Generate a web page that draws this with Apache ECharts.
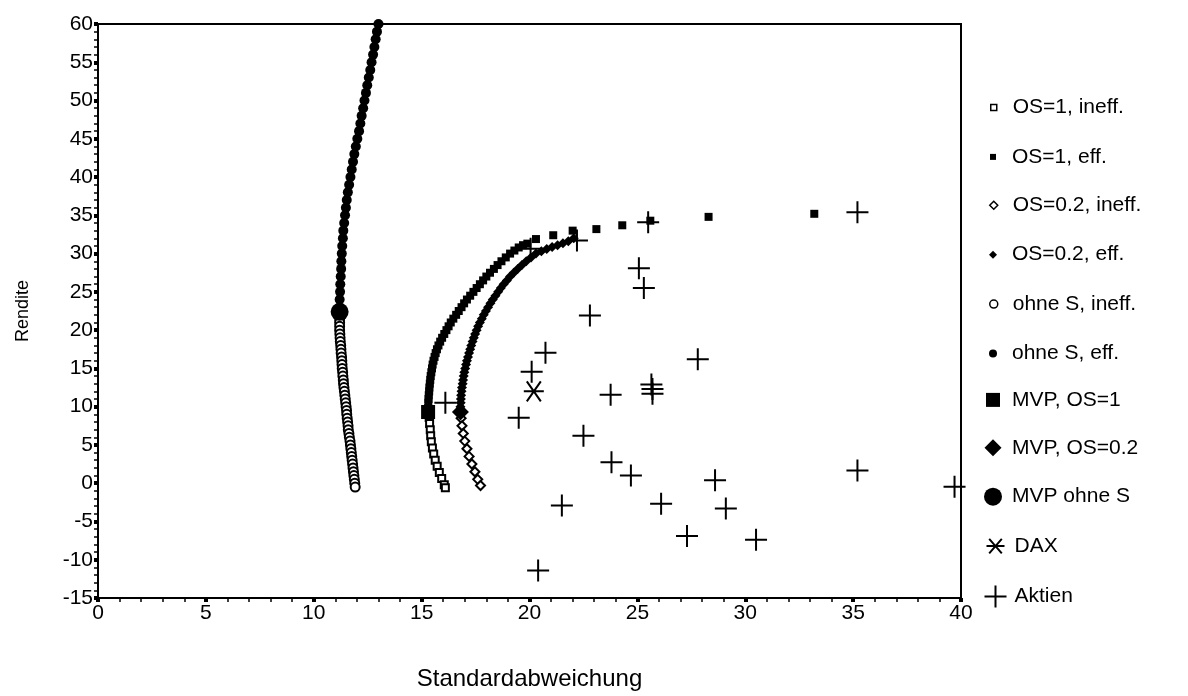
<!DOCTYPE html>
<html>
<head>
<meta charset="utf-8">
<script src="https://cdn.jsdelivr.net/npm/echarts@6/dist/echarts.min.js"></script>
<style>
  html, body { margin: 0; padding: 0; background: #fff; }
  #chart { width: 1188px; height: 696px; }
</style>
</head>
<body>
<div id="chart"></div>
<script>
// Werte: [Standardabweichung, Rendite]
var ohneSIneff = [[11.2,21.5],[11.2,21],[11.2,20.5],[11.2,20],[11.21,19.5],[11.22,19],[11.23,18.5],[11.25,18],[11.26,17.5],[11.27,17],[11.29,16.5],[11.3,16],[11.31,15.5],[11.32,15],[11.34,14.5],[11.35,14],[11.37,13.5],[11.38,13],[11.4,12.5],[11.42,12],[11.44,11.5],[11.46,11],[11.48,10.5],[11.5,10],[11.52,9.5],[11.53,9],[11.55,8.5],[11.57,8],[11.59,7.5],[11.6,7],[11.63,6.5],[11.65,6],[11.68,5.5],[11.7,5],[11.72,4.5],[11.74,4],[11.76,3.5],[11.78,3],[11.8,2.5],[11.82,2],[11.84,1.5],[11.86,1],[11.88,0.5],[11.9,0],[11.92,-0.5]];
var ohneSEff = [[11.2,23],[11.2,24],[11.22,25],[11.23,26],[11.25,27],[11.27,28],[11.28,29],[11.3,30],[11.32,31],[11.35,32],[11.37,33],[11.41,34],[11.45,35],[11.49,36],[11.53,37],[11.58,38],[11.64,39],[11.7,40],[11.76,41],[11.82,42],[11.88,43],[11.95,44],[12.02,45],[12.1,46],[12.16,47],[12.22,48],[12.29,49],[12.35,50],[12.42,51],[12.48,52],[12.55,53],[12.62,54],[12.68,55],[12.75,56],[12.81,57],[12.87,58],[12.93,59],[13.0,60]];
var os1Ineff = [[15.35,8.6],[15.37,7.8],[15.4,7.0],[15.42,6.2],[15.45,5.4],[15.5,4.6],[15.56,3.8],[15.63,3.0],[15.72,2.2],[15.82,1.4],[15.93,0.6],[16.05,-0.2],[16.1,-0.6]];
var os1Eff = [[15.3,9.8],[15.31,10.5],[15.32,11],[15.33,11.5],[15.35,12],[15.36,12.5],[15.38,13],[15.4,13.5],[15.42,14],[15.45,14.5],[15.48,15],[15.51,15.5],[15.55,16],[15.6,16.5],[15.65,17],[15.71,17.5],[15.78,18],[15.86,18.5],[15.95,19],[16.05,19.5],[16.15,20],[16.25,20.5],[16.35,21],[16.47,21.5],[16.6,22],[16.72,22.5],[16.85,23],[16.97,23.5],[17.1,24],[17.25,24.5],[17.4,25],[17.55,25.5],[17.7,26],[17.85,26.5],[18.0,27],[18.17,27.5],[18.35,28],[18.52,28.5],[18.7,29],[18.9,29.5],[19.1,30],[19.3,30.4],[19.5,30.8],[19.7,31.1],[19.9,31.3],[20.3,31.9],[21.1,32.4],[22.0,33.0],[23.1,33.2],[24.3,33.7],[25.6,34.3],[28.3,34.8],[33.2,35.2]];
var os02Ineff = [[16.83,8.5],[16.87,7.5],[16.93,6.5],[17.0,5.5],[17.1,4.5],[17.2,3.5],[17.33,2.5],[17.47,1.5],[17.6,0.5],[17.73,-0.3]];
var os02Eff = [[16.8,10],[16.81,10.5],[16.82,11],[16.83,11.5],[16.85,12],[16.87,12.5],[16.9,13],[16.92,13.5],[16.95,14],[16.98,14.5],[17.02,15],[17.06,15.5],[17.1,16],[17.15,16.5],[17.2,17],[17.25,17.5],[17.3,18],[17.36,18.5],[17.42,19],[17.48,19.5],[17.55,20],[17.62,20.5],[17.7,21],[17.79,21.5],[17.88,22],[17.98,22.5],[18.08,23],[18.19,23.5],[18.3,24],[18.42,24.5],[18.55,25],[18.67,25.5],[18.8,26],[18.95,26.5],[19.1,27],[19.27,27.5],[19.45,28],[19.65,28.5],[19.85,29],[20.07,29.5],[20.3,30],[20.55,30.3],[20.8,30.6],[21.05,30.85],[21.3,31.1],[21.55,31.35],[21.8,31.6],[22.05,32.0]];
var mvpOS1 = [[15.3,9.3]];
var mvpOS02 = [[16.8,9.3]];
var mvpOhneS = [[11.2,22.4]];
var dax = [[20.2,12.0]];
var aktien = [[35.2,35.4],[25.5,34.1],[25.07,28.1],[25.3,25.5],[22.8,21.9],[20.74,17.05],[20.1,14.55],[23.76,11.55],[25.65,12.9],[25.7,12.3],[25.7,11.7],[16.1,10.5],[19.5,8.55],[22.5,6.2],[23.8,2.75],[24.7,1.0],[20.05,30.65],[22.2,31.7],[27.8,16.2],[35.2,1.66],[39.7,-0.48],[28.6,0.4],[26.1,-2.7],[29.1,-3.3],[27.3,-6.9],[30.5,-7.4],[21.5,-2.9],[20.4,-11.4]];

var FONT = 'Liberation Sans, Arial, Helvetica, sans-serif';
var PLUS = 'path://M10,0L10,20M0,10L20,10';
var STAR = 'path://M0,10L20,10M3,2L17,18M17,2L3,18';

// name, data, symbol, size, hollow, z
var reihen = [
  ['OS=1, ineff.', os1Ineff, 'rect', 7, true, 3],
  ['OS=1, eff.', os1Eff, 'rect', 8, false, 3],
  ['OS=0.2, ineff.', os02Ineff, 'diamond', 9, true, 3],
  ['OS=0.2, eff.', os02Eff, 'diamond', 10, false, 3],
  ['ohne S, ineff.', ohneSIneff, 'circle', 9, true, 3],
  ['ohne S, eff.', ohneSEff, 'circle', 10, false, 3],
  ['MVP, OS=1', mvpOS1, 'rect', 14, false, 5],
  ['MVP, OS=0.2', mvpOS02, 'diamond', 17, false, 5],
  ['MVP ohne S', mvpOhneS, 'circle', 18, false, 5],
  ['DAX', dax, STAR, 20, 'line', 6],
  ['Aktien', aktien, PLUS, 22, 'line', 6]
];
var legendIcon = [6, 6, 8, 8, 8, 8, 14, 17, 18, 18, 22];

var series = [];
var legends = [];
reihen.forEach(function (r, i) {
  var style, legendStyle;
  if (r[4] === 'line') {
    style = { color: 'none', borderColor: '#000', borderWidth: 2, opacity: 1 };
    legendStyle = { opacity: 1, borderWidth: 2 };
  } else if (r[4]) {
    style = { color: '#fff', borderColor: '#000', borderWidth: 2, opacity: 1 };
    legendStyle = { opacity: 1, borderWidth: 1.5 };
  } else {
    style = { color: '#000', opacity: 1 };
    legendStyle = { opacity: 1 };
  }
  series.push({
    name: r[0],
    type: 'scatter',
    data: r[1],
    symbol: r[2],
    symbolSize: r[3],
    itemStyle: style,
    z: r[5],
    silent: true,
    animation: false
  });
  var w = legendIcon[i];
  var yc = 100 + i * 49.4;
  legends.push({
    data: [r[0]],
    orient: 'vertical',
    left: 993 - w / 2,
    top: yc - w / 2,
    padding: 0,
    itemWidth: w,
    itemHeight: w,
    selectedMode: false,
    itemStyle: legendStyle,
    textStyle: {
      fontFamily: FONT,
      fontSize: 21,
      color: '#000',
      padding: [0, 0, 0, 1012 - (998 + w / 2)]
    }
  });
});

var myChart = echarts.init(document.getElementById('chart'));
var option = {
  backgroundColor: '#fff',
  animation: false,
  grid: {
    left: 98,
    right: 227,
    top: 24,
    bottom: 90,
    show: true,
    borderColor: '#000',
    borderWidth: 2,
    backgroundColor: 'transparent'
  },
  legend: legends,
  xAxis: {
    type: 'value',
    min: 0,
    max: 40,
    interval: 5,
    name: 'Standardabweichung',
    nameLocation: 'middle',
    nameGap: 69,
    nameTextStyle: { fontFamily: FONT, fontSize: 24, color: '#000' },
    axisLine: { onZero: false, lineStyle: { color: '#000', width: 2 } },
    axisTick: { show: true, length: 4, lineStyle: { color: '#000', width: 4 } },
    minorTick: { show: true, splitNumber: 5, length: 4, lineStyle: { color: '#000', width: 1.5 } },
    axisLabel: { fontFamily: FONT, fontSize: 21, color: '#000', margin: 5 },
    splitLine: { show: false }
  },
  yAxis: {
    type: 'value',
    min: -15,
    max: 60,
    interval: 5,
    name: 'Rendite',
    nameLocation: 'middle',
    nameGap: 66,
    nameRotate: 90,
    nameTextStyle: { fontFamily: FONT, fontSize: 18, color: '#000' },
    axisLine: { onZero: false, lineStyle: { color: '#000', width: 2 } },
    axisTick: { show: true, length: 4, lineStyle: { color: '#000', width: 4 } },
    minorTick: { show: true, splitNumber: 5, length: 4, lineStyle: { color: '#000', width: 1.5 } },
    axisLabel: { fontFamily: FONT, fontSize: 21, color: '#000', margin: 5 },
    splitLine: { show: false }
  },
  series: series
};
myChart.setOption(option);

window.addEventListener('resize', function () {
  myChart.resize();
});
</script>
</body>
</html>
